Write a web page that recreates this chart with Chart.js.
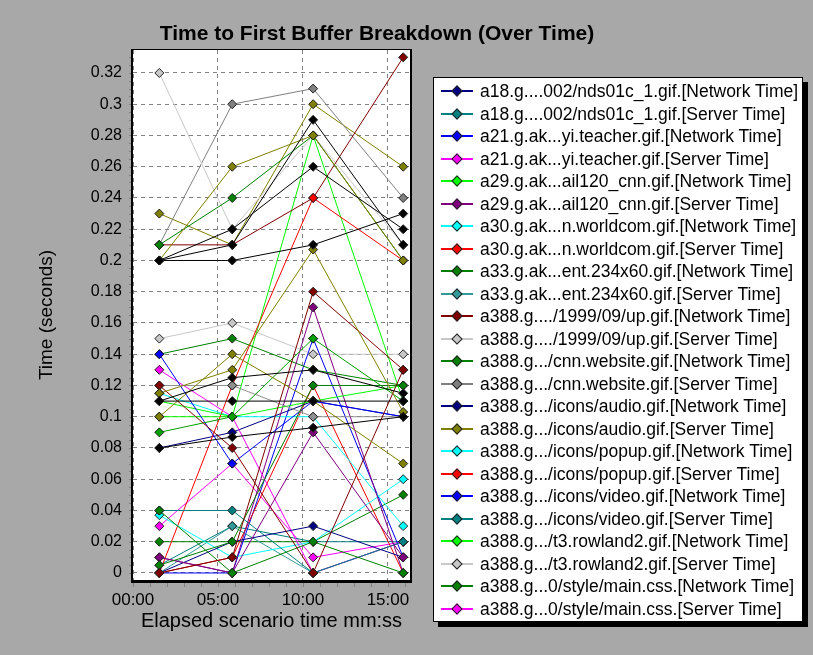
<!DOCTYPE html>
<html>
<head>
<meta charset="utf-8">
<script src="https://cdn.jsdelivr.net/npm/chart.js@4.4.1/dist/chart.umd.min.js"></script>
<style>
  html, body { margin: 0; padding: 0; background: #ffffff; }
  #wrap { position: relative; width: 813px; height: 655px; background: #a8a8a8; overflow: hidden; }
  #chart { position: absolute; left: 0; top: 0; }
  #titulo {
    position: absolute; left: 77px; top: 21px; width: 600px; text-align: center;
    font: bold 21px "Liberation Sans", Arial, sans-serif; color: #000; line-height: 24px; white-space: nowrap;
  }
  #legend {
    position: absolute; left: 433px; top: 77px; width: 368px; height: 543px;
    background: #fff; border: 1px solid #000; box-shadow: 5px 5px 0 #000;
    font: 17.5px "Liberation Sans", Arial, sans-serif; color: #000;
  }
  .row { position: absolute; left: 0; height: 22px; line-height: 22px; white-space: nowrap; }
  .ln { position: absolute; left: 7px; top: 10px; width: 32px; height: 2px; }
  .dm { position: absolute; left: 19px; top: 7px; width: 6px; height: 6px; transform: rotate(45deg); border: 1px solid #222; }
  .tx { position: absolute; left: 46px; top: 0; }
</style>
</head>
<body>
<div id="wrap">
  <canvas id="chart" width="813" height="655"></canvas>
  <div id="titulo">Time to First Buffer Breakdown (Over Time)</div>
  <div id="legend"></div>
</div>
<script>
// ---------- datos ----------
// minutos transcurridos de cada muestra
var tiempos = [1.55, 5.84, 10.6, 15.9];
var xTicks = [0, 5, 10, 15];
var yTicks = [0, 0.02, 0.04, 0.06, 0.08, 0.1, 0.12, 0.14, 0.16, 0.18, 0.2, 0.22, 0.24, 0.26, 0.28, 0.3, 0.32];

// series que aparecen en la leyenda (segundos)
var a18NdsNet   = [0.0, 0.02, 0.03, 0.01];
var a18NdsSrv   = [0.04, 0.04, 0.0, 0.02];
var a21TeachNet = [0.14, 0.07, 0.11, 0.10];
var a21TeachSrv = [0.13, 0.10, 0.0, 0.02];
var a29CnnNet   = [0.11, 0.10, 0.11, 0.12];
var a29CnnSrv   = [0.01, 0.0, 0.17, 0.0];
var a30WcNet    = [0.037, 0.01, 0.02, 0.06];
var a30WcSrv    = [0.0, 0.12, 0.24, 0.20];
var a33EntNet   = [0.21, 0.24, 0.28, 0.20];
var a33EntSrv   = [0.0, 0.03, 0.0, 0.02];
var upNet       = [0.21, 0.21, 0.24, 0.33];
var upSrv       = [0.32, 0.22, 0.28, 0.21];
var cnnWebNet   = [0.14, 0.15, 0.13, 0.12];
var cnnWebSrv   = [0.21, 0.30, 0.31, 0.24];
var audioNet    = [0.08, 0.09, 0.11, 0.10];
var audioSrv    = [0.23, 0.21, 0.30, 0.26];
var popupNet    = [0.115, 0.10, 0.10, 0.03];
var popupSrv    = [0.0, 0.01, 0.12, 0.0];
var videoNet    = [0.0, 0.0, 0.15, 0.01];
var videoSrv    = [0.005, 0.03, 0.02, 0.02];
var rowlandNet  = [0.10, 0.10, 0.28, 0.11];
var rowlandSrv  = [0.15, 0.16, 0.14, 0.14];
var mainCssNet  = [0.02, 0.02, 0.02, 0.05];
var mainCssSrv  = [0.03, 0.07, 0.01, 0.02];

// lineas visibles en el grafico que no entran en la leyenda
var extraK1 = [0.20, 0.21, 0.29, 0.21];
var extraK2 = [0.20, 0.22, 0.26, 0.22];
var extraK3 = [0.20, 0.20, 0.21, 0.23];
var extraK4 = [0.11, 0.11, 0.11, 0.11];
var extraK5 = [0.08, 0.087, 0.093, 0.10];
var extraK6 = [0.11, 0.125, 0.13, 0.115];
var extraO1 = [0.20, 0.26, 0.28, 0.20];
var extraO2 = [0.115, 0.13, 0.207, 0.103];
var extraO3 = [0.10, 0.14, 0.11, 0.07];
var extraM1 = [0.12, 0.08, 0.0, 0.13];
var extraM2 = [0.0, 0.01, 0.18, 0.13];
var extraG1 = [0.09, 0.10, 0.15, 0.11];
var extraG2 = [0.005, 0.02, 0.12, 0.12];
var extraG3 = [0.04, 0.0, 0.02, 0.0];
var extraP1 = [0.01, 0.0, 0.09, 0.01];
var extraX1 = [0.12, 0.12, 0.10, 0.10];

var nombres = [
  'a18.g....002/nds01c_1.gif.[Network Time]',
  'a18.g....002/nds01c_1.gif.[Server Time]',
  'a21.g.ak...yi.teacher.gif.[Network Time]',
  'a21.g.ak...yi.teacher.gif.[Server Time]',
  'a29.g.ak...ail120_cnn.gif.[Network Time]',
  'a29.g.ak...ail120_cnn.gif.[Server Time]',
  'a30.g.ak...n.worldcom.gif.[Network Time]',
  'a30.g.ak...n.worldcom.gif.[Server Time]',
  'a33.g.ak...ent.234x60.gif.[Network Time]',
  'a33.g.ak...ent.234x60.gif.[Server Time]',
  'a388.g..../1999/09/up.gif.[Network Time]',
  'a388.g..../1999/09/up.gif.[Server Time]',
  'a388.g.../cnn.website.gif.[Network Time]',
  'a388.g.../cnn.website.gif.[Server Time]',
  'a388.g.../icons/audio.gif.[Network Time]',
  'a388.g.../icons/audio.gif.[Server Time]',
  'a388.g.../icons/popup.gif.[Network Time]',
  'a388.g.../icons/popup.gif.[Server Time]',
  'a388.g.../icons/video.gif.[Network Time]',
  'a388.g.../icons/video.gif.[Server Time]',
  'a388.g.../t3.rowland2.gif.[Network Time]',
  'a388.g.../t3.rowland2.gif.[Server Time]',
  'a388.g...0/style/main.css.[Network Time]',
  'a388.g...0/style/main.css.[Server Time]'
];
var valores = [
  a18NdsNet, a18NdsSrv, a21TeachNet, a21TeachSrv, a29CnnNet, a29CnnSrv,
  a30WcNet, a30WcSrv, a33EntNet, a33EntSrv, upNet, upSrv,
  cnnWebNet, cnnWebSrv, audioNet, audioSrv, popupNet, popupSrv,
  videoNet, videoSrv, rowlandNet, rowlandSrv, mainCssNet, mainCssSrv
];
var extras = [extraK1, extraK2, extraK3, extraK4, extraK5, extraK6, extraO1, extraO2, extraO3,
  extraM1, extraM2, extraG1, extraG2, extraG3, extraP1, extraX1];

// ---------- estilos ----------
var colores = [
  '#000080', '#008080', '#0000ff', '#ff00ff', '#00ff00', '#800080', '#00ffff', '#ff0000',
  '#008000', '#339999', '#800000', '#c8c8c8', '#008000', '#808080', '#000080', '#808000',
  '#00ffff', '#ff0000', '#0000ff', '#008080', '#00ff00', '#c8c8c8', '#008000', '#ff00ff'
];
var coloresExtra = ['#000000', '#000000', '#000000', '#000000', '#000000', '#000000',
  '#808000', '#808000', '#808000', '#800000', '#800000', '#00a000', '#008000', '#008000',
  '#800080', '#909090'];
var FONT = '"Liberation Sans", Arial, sans-serif';

function _pares(vals) {
  return vals.map(function (v, i) { return { x: tiempos[i], y: v }; });
}
function _dataset(label, vals, color) {
  return {
    label: label, data: _pares(vals),
    borderColor: color, backgroundColor: color, borderWidth: 1,
    pointStyle: 'rectRot', pointRadius: 4.5, pointBorderWidth: 1,
    pointBackgroundColor: color, pointBorderColor: '#202020',
    tension: 0, fill: false
  };
}

var datasets = [];
extras.forEach(function (v, i) { datasets.push(_dataset('', v, coloresExtra[i])); });
valores.forEach(function (v, i) { datasets.push(_dataset(nombres[i], v, colores[i])); });

function _fmtMin(v) {
  var m = Math.floor(v), s = Math.round((v - m) * 60);
  return String(m).padStart(2, '0') + ':' + String(s).padStart(2, '0');
}

// fondo blanco + marco + ticks menores
var marcoPlugin = {
  id: 'marco',
  beforeDraw: function (chart) {
    var a = chart.chartArea, ctx = chart.ctx;
    ctx.save();
    ctx.fillStyle = '#ffffff';
    ctx.fillRect(a.left, a.top, a.right - a.left, a.bottom - a.top);
    ctx.restore();
  },
  afterDraw: function (chart) {
    var a = chart.chartArea, ctx = chart.ctx;
    var sx = chart.scales.x, sy = chart.scales.y;
    ctx.save();
    ctx.strokeStyle = '#808080';
    ctx.lineWidth = 1;
    ctx.beginPath();
    for (var m = 0; m <= 16; m++) {
      var px = Math.round(sx.getPixelForValue(m)) + 0.5;
      ctx.moveTo(px, a.bottom + 2); ctx.lineTo(px, a.bottom + 7);
    }
    for (var k = 0; k <= 66; k++) {
      var py = Math.round(sy.getPixelForValue(k * 0.005)) + 0.5;
      if (py < a.top) continue;
      ctx.moveTo(a.left - 4, py); ctx.lineTo(a.left - 1, py);
    }
    ctx.stroke();
    ctx.fillStyle = '#000';
    ctx.fillRect(a.left - 2, a.top - 1, 2, a.bottom - a.top + 4);
    ctx.fillRect(a.left - 2, a.bottom, a.right - a.left + 4, 3);
    ctx.fillRect(a.left - 2, a.top - 1, a.right - a.left + 4, 1);
    ctx.fillRect(a.right, a.top - 1, 2, a.bottom - a.top + 4);
    ctx.restore();
  }
};

var chart = new Chart(document.getElementById('chart'), {
  type: 'line',
  data: { datasets: datasets },
  plugins: [marcoPlugin],
  options: {
    responsive: false,
    animation: false,
    layout: { padding: { left: 31, right: 403, top: 50, bottom: 22 } },
    plugins: {
      legend: { display: false },
      tooltip: { enabled: false },
      title: { display: false }
    },
    scales: {
      x: {
        type: 'linear', min: 0, max: 16.3,
        afterBuildTicks: function (s) { s.ticks = xTicks.map(function (v) { return { value: v }; }); },
        afterFit: function (s) { s.height = 53; },
        ticks: { color: '#000', font: { family: FONT, size: 17 }, padding: 10, maxRotation: 0, autoSkip: false,
          callback: function (v) { return _fmtMin(v); } },
        grid: { color: '#808080', drawTicks: false, lineWidth: 1 },
        border: { display: false, dash: [4, 4] },
        title: { display: true, text: 'Elapsed scenario time mm:ss', color: '#000',
          font: { family: FONT, size: 20 }, padding: { top: 0, bottom: 0 } }
      },
      y: {
        type: 'linear', min: -0.0045, max: 0.3347,
        afterBuildTicks: function (s) { s.ticks = yTicks.map(function (v) { return { value: v }; }); },
        afterFit: function (s) { s.width = 133 - 31; },
        ticks: { color: '#000', font: { family: FONT, size: 16 }, padding: 11,
          callback: function (v) { return String(Number(v.toFixed(2))); } },
        grid: { color: '#808080', drawTicks: false, lineWidth: 1 },
        border: { display: false, dash: [4, 4] },
        title: { display: true, text: 'Time (seconds)', color: '#000',
          font: { family: FONT, size: 19 }, padding: { top: 4, bottom: 0 } }
      }
    }
  }
});

// ---------- leyenda ----------
(function () {
  var box = document.getElementById('legend');
  nombres.forEach(function (n, i) {
    var row = document.createElement('div');
    row.className = 'row';
    row.style.top = (2 + i * 22.5) + 'px';
    row.style.width = '366px';
    row.innerHTML = '<div class="ln" style="background:' + colores[i] + '"></div>' +
      '<div class="dm" style="background:' + colores[i] + '"></div>' +
      '<span class="tx"></span>';
    row.querySelector('.tx').textContent = n;
    box.appendChild(row);
  });
})();
</script>
</body>
</html>
